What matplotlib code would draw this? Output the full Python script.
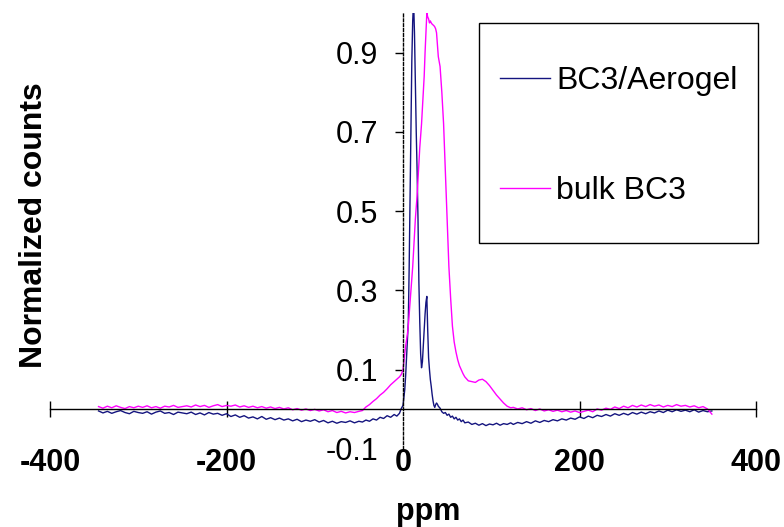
import numpy as np
import matplotlib
matplotlib.use("Agg")
import matplotlib.pyplot as plt
from matplotlib.patches import Rectangle

plt.rcParams['font.family'] = ['Liberation Sans', 'DejaVu Sans']

# chemical shift grid (ppm), shared by both spectra
ppm = [-345, -340, -335, -330, -325, -320, -315, -310, -305, -300,
       -295, -290, -285, -280, -275, -270, -265, -260, -255, -250,
       -245, -240, -235, -230, -225, -220, -215, -210, -205, -200,
       -195, -190, -185, -180, -175, -170, -165, -160, -155, -150,
       -145, -140, -135, -130, -125, -120, -115, -110, -105, -100,
       -95, -90, -85, -80, -75, -70, -65, -60, -55, -50,
       -46, -42, -38, -34, -30, -26, -22, -18, -14, -10, -7, -4, -2,
       0, 1, 2, 3, 4, 5, 6, 7, 8, 9, 10, 11, 12, 13, 14, 15, 16, 17, 18, 19, 20,
       21, 22, 23, 24, 25, 26, 27, 28, 29, 30, 31, 32, 33, 34, 35, 36, 37, 38, 39, 40,
       42, 44, 46, 48, 50, 52, 54, 56, 58, 60, 62, 64, 66, 68, 70,
       74, 78, 82, 86, 90, 94, 98, 102, 106, 110, 114, 118, 122,
       125, 130, 135, 140, 145, 150, 155, 160, 165, 170,
       175, 180, 185, 190, 195, 200, 205, 210, 215, 220,
       225, 230, 235, 240, 245, 250, 255, 260, 265, 270,
       275, 280, 285, 290, 295, 300, 305, 310, 315, 320,
       325, 330, 335, 340, 345, 350]

aerogel = [-0.004, -0.009, -0.005, -0.010, -0.006, -0.003, -0.008, -0.011, -0.005, -0.008,
           -0.010, -0.006, -0.012, -0.007, -0.004, -0.010, -0.008, -0.013, -0.007, -0.009,
           -0.011, -0.007, -0.013, -0.009, -0.014, -0.008, -0.012, -0.010, -0.015, -0.011,
           -0.018, -0.014, -0.020, -0.016, -0.022, -0.019, -0.024, -0.018, -0.025, -0.021,
           -0.026, -0.022, -0.027, -0.024, -0.029, -0.025, -0.031, -0.027, -0.030, -0.026,
           -0.032, -0.028, -0.034, -0.030, -0.035, -0.031, -0.033, -0.029, -0.034, -0.030,
           -0.032, -0.027, -0.030, -0.024, -0.027, -0.020, -0.023, -0.016, -0.020, -0.013, -0.017, -0.010, 0.002,
           0.010, 0.030, 0.050, 0.085, 0.13, 0.17, 0.22, 0.36, 0.53, 0.70, 0.88, 0.98, 1.03, 0.95, 0.82, 0.70, 0.60, 0.48, 0.32, 0.22, 0.14,
           0.105, 0.12, 0.16, 0.20, 0.24, 0.27, 0.285, 0.20, 0.13, 0.10, 0.075, 0.058, 0.038, 0.022, 0.010, 0.005, 0.012, 0.016, 0.013, 0.008,
           0.003, -0.006, -0.010, -0.008, -0.015, -0.012, -0.020, -0.017, -0.024, -0.020, -0.027, -0.024, -0.031, -0.027, -0.034,
           -0.032, -0.038, -0.035, -0.040, -0.036, -0.041, -0.037, -0.039, -0.035, -0.040, -0.036, -0.038, -0.034,
           -0.038, -0.033, -0.036, -0.031, -0.035, -0.029, -0.033, -0.028, -0.031, -0.026,
           -0.029, -0.024, -0.027, -0.022, -0.025, -0.019, -0.023, -0.017, -0.021, -0.015,
           -0.018, -0.013, -0.017, -0.011, -0.015, -0.010, -0.014, -0.008, -0.012, -0.007,
           -0.011, -0.006, -0.009, -0.004, -0.008, -0.002, -0.006, -0.001, -0.005, -0.002,
           -0.006, -0.001, -0.007, -0.003, -0.006, -0.004]

bulk = [0.007, 0.003, 0.008, 0.004, 0.009, 0.005, 0.002, 0.007, 0.004, 0.008,
        0.005, 0.009, 0.004, 0.007, 0.003, 0.008, 0.006, 0.010, 0.005, 0.007,
        0.009, 0.006, 0.011, 0.007, 0.010, 0.005, 0.009, 0.012, 0.007, 0.010,
        0.008, 0.011, 0.006, 0.009, 0.005, 0.008, 0.004, 0.007, 0.003, 0.006,
        0.002, 0.005, 0.001, 0.004, -0.001, 0.002, -0.002, 0.001, -0.003, 0.000,
        -0.004, -0.001, -0.006, -0.003, -0.008, -0.005, -0.009, -0.006, -0.008, -0.005,
        -0.003, 0.006, 0.012, 0.020, 0.027, 0.036, 0.043, 0.052, 0.062, 0.070, 0.076, 0.082, 0.088,
        0.10, 0.12, 0.14, 0.16, 0.175, 0.19, 0.21, 0.24, 0.27, 0.30, 0.33, 0.36, 0.40, 0.44, 0.48, 0.51, 0.54, 0.58, 0.62, 0.66, 0.69,
        0.72, 0.76, 0.80, 0.84, 0.90, 0.95, 1.00, 0.99, 0.985, 0.975, 0.98, 0.975, 0.972, 0.97, 0.968, 0.965, 0.96, 0.95, 0.92, 0.89,
        0.865, 0.80, 0.72, 0.60, 0.48, 0.36, 0.28, 0.21, 0.17, 0.145, 0.125, 0.11, 0.10, 0.09, 0.082,
        0.072, 0.070, 0.068, 0.074, 0.076, 0.070, 0.060, 0.048, 0.036, 0.026, 0.016, 0.008, 0.004,
        0.005, 0.001, 0.004, -0.001, 0.002, -0.003, 0.001, -0.004, -0.001, -0.005,
        -0.002, -0.006, -0.003, -0.007, -0.004, -0.008, -0.005, -0.002, -0.006, 0.001,
        -0.002, 0.003, 0.000, 0.006, 0.002, 0.008, 0.004, 0.010, 0.006, 0.011,
        0.007, 0.012, 0.008, 0.011, 0.006, 0.010, 0.007, 0.012, 0.008, 0.010,
        0.006, 0.009, 0.004, 0.007, 0.001, -0.012]

xticks = [-400, -200, 0, 200, 400]
yticks = [-0.1, 0.1, 0.3, 0.5, 0.7, 0.9]

W, H = 784, 527
fig = plt.figure(figsize=(W/100, H/100), dpi=100)
ax = fig.add_axes([50/W, 1-449/H, 706/W, 436/H])

ax.plot(ppm, aerogel, color='#14147f', lw=1.0, label='BC3/Aerogel')
ax.plot(ppm, bulk, color='#ff00ff', lw=1.0, label='bulk BC3')

ax.set_xlim(-400, 400)
ax.set_ylim(-0.1, 1.0)

ax.spines['top'].set_visible(False)
ax.spines['right'].set_visible(False)
ax.spines['left'].set_position(('data', 0))
ax.spines['left'].set_linestyle((0, (2, 1.5)))
ax.spines['bottom'].set_position(('data', 0))
ax.spines['left'].set_linewidth(1.0)
ax.spines['bottom'].set_linewidth(1.0)

ax.set_xticks(xticks)
ax.set_xticklabels([str(v) for v in xticks], fontsize=22, fontweight='bold')
ax.tick_params(axis='x', direction='inout', length=12, width=1, pad=22)
ax.set_yticks(yticks)
ax.set_yticklabels(['%.1f' % v for v in yticks], fontsize=22)
ax.tick_params(axis='y', direction='out', length=6, width=1, pad=12)
ax.yaxis.get_major_ticks()[0].tick1line.set_visible(False)
ax.xaxis.get_major_ticks()[2].tick1line.set_visible(False)

fig.text(428/W, 1-512/H, 'ppm', fontsize=22, fontweight='bold', ha='center', va='center')
fig.text(34/W, 1-225/H, 'Normalized counts', fontsize=23, fontweight='bold',
         rotation=90, ha='center', va='center')

# legend box drawn separately so the padding can match
fig.patches.append(Rectangle((479/W, 1-243/H), 279/W, 220/H, transform=fig.transFigure,
                             fill=False, edgecolor='black', lw=1.0))
ax.legend(loc='center left', bbox_to_anchor=(500/W, 1-136/H), bbox_transform=fig.transFigure,
          frameon=False, fontsize=23, handlelength=1.55, handletextpad=0.2,
          labelspacing=2.5, borderpad=0, borderaxespad=0)

fig.savefig('out.png', dpi=100)
